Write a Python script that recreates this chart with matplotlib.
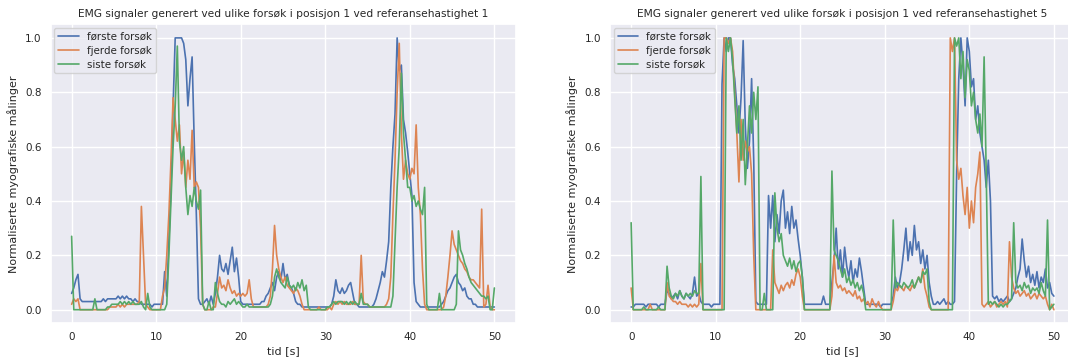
import numpy as np
import matplotlib
matplotlib.use("Agg")
import matplotlib.pyplot as plt
import seaborn as sns

# time axis: 0..50 s, one reading every 0.25 s
dt = 0.25
labels = ["første forsøk", "fjerde forsøk", "siste forsøk"]
titles = ["EMG signaler generert ved ulike forsøk i posisjon 1 ved referansehastighet 1",
          "EMG signaler generert ved ulike forsøk i posisjon 1 ved referansehastighet 5"]
xlabel = "tid [s]"
ylabel = "Normaliserte myografiske målinger"

# ---- values in percent, 4 readings per second ----
v1_forste = [
    6, 8, 11, 13,   4, 3, 3, 3,   3, 3, 3, 3,   3, 3, 3, 4,   3, 4, 4, 4,
    4, 4, 5, 4,   5, 4, 5, 4,   4, 3, 4, 3,   3, 2, 2, 2,   2, 2, 1, 2,
    2, 2, 2, 2,   14, 5, 25, 45,   75, 100, 100, 100,   100, 98, 92, 75,   85, 93, 62, 35,
    4, 2, 2, 3,   4, 2, 5, 2,   6, 12, 20, 15,   14, 17, 13, 18,   23, 14, 19, 12,
    3, 2, 2, 2,   2, 2, 2, 2,   2, 2, 3, 3,   5, 6, 8, 10,   7, 12, 14, 11,
    17, 11, 13, 9,   8, 6, 3, 2,   2, 1, 1, 1,   1, 1, 1, 1,   1, 1, 1, 1,
    1, 1, 1, 2,   5, 11, 7, 6,   8, 6, 7, 9,   10, 6, 2, 2,   1, 1, 1, 1,
    1, 1, 1, 2,   4, 7, 10, 14,   12, 18, 25, 45,   60, 72, 100, 88,   90, 70, 65, 58,
    50, 42, 10, 3,   2, 1, 1, 1,   1, 1, 1, 1,   1, 1, 1, 2,   3, 5, 7, 8,
    10, 12, 13, 10,   9, 7, 8, 5,   4, 4, 2, 2,   1, 1, 1, 1,   1, 1, 1, 1,
    1]
v1_fjerde = [
    2, 4, 3, 4,   0, 0, 0, 0,   0, 0, 0, 0,   0, 0, 0, 0,   0, 0, 1, 1,
    1, 1, 2, 1,   2, 1, 2, 2,   2, 2, 2, 2,   3, 38, 20, 2,   1, 0, 0, 0,
    0, 0, 0, 5,   8, 20, 35, 55,   78, 70, 62, 68,   50, 58, 45, 55,   48, 66, 45, 47,
    45, 30, 2, 0,   0, 0, 0, 1,   1, 6, 12, 8,   9, 7, 11, 8,   6, 7, 5, 6,
    5, 6, 5, 6,   11, 4, 1, 1,   1, 1, 1, 1,   1, 2, 5, 15,   31, 20, 15, 12,
    10, 12, 9, 8,   7, 6, 8, 7,   5, 2, 0, 0,   0, 0, 0, 0,   0, 1, 0, 0,
    0, 0, 1, 0,   2, 3, 2, 3,   2, 3, 2, 2,   2, 3, 2, 2,   2, 20, 3, 2,
    2, 1, 1, 1,   1, 1, 1, 1,   1, 2, 4, 12,   35, 55, 80, 98,   65, 48, 55, 50,
    48, 52, 50, 68,   45, 35, 15, 2,   0, 0, 0, 0,   0, 0, 0, 0,   1, 5, 12, 20,
    29, 24, 22, 20,   18, 17, 15, 14,   12, 11, 11, 10,   9, 8, 37, 1,   2, 9, 1, 0,
    0]
v1_siste = [
    27, 0, 0, 0,   0, 0, 0, 0,   0, 0, 0, 4,   0, 0, 0, 0,   0, 1, 1, 2,
    2, 2, 2, 3,   2, 3, 2, 3,   2, 3, 2, 2,   2, 3, 1, 0,   6, 1, 0, 0,
    0, 0, 0, 0,   0, 2, 20, 40,   60, 75, 97, 62,   55, 60, 45, 35,   42, 38, 45, 40,
    37, 44, 2, 0,   0, 3, 0, 0,   10, 6, 3, 2,   2, 1, 3, 2,   3, 4, 2, 3,
    2, 1, 1, 2,   1, 1, 1, 1,   1, 1, 1, 1,   1, 1, 2, 5,   12, 15, 12, 10,
    9, 8, 12, 9,   8, 9, 7, 10,   8, 11, 7, 9,   1, 0, 0, 0,   0, 0, 0, 0,
    0, 1, 1, 2,   3, 2, 3, 3,   3, 2, 3, 2,   3, 2, 3, 2,   2, 6, 2, 2,
    2, 1, 1, 1,   1, 1, 1, 1,   1, 1, 1, 1,   5, 25, 45, 60,   87, 65, 55, 45,
    45, 40, 42, 38,   40, 37, 35, 45,   2, 0, 0, 0,   0, 0, 6, 0,   0, 0, 0, 0,
    0, 0, 2, 29,   22, 20, 17, 15,   12, 10, 9, 8,   7, 6, 5, 5,   4, 5, 0, 0,
    8]

v5_forste = [
    1, 1, 2, 2,   2, 2, 2, 1,   2, 2, 2, 2,   2, 1, 2, 2,   2, 7, 6, 4,
    5, 6, 4, 7,   5, 4, 6, 5,   4, 6, 12, 5,   6, 3, 2, 2,   2, 2, 1, 2,
    2, 2, 2, 83,   100, 95, 100, 100,   90, 85, 75, 65,   78, 99, 68, 52,   62, 85, 55, 3,
    2, 2, 2, 2,   2, 42, 30, 42,   25, 35, 28, 40,   44, 30, 36, 28,   38, 30, 33, 26,
    20, 12, 2, 2,   2, 2, 2, 2,   2, 2, 2, 5,   2, 2, 2, 10,   18, 30, 15, 22,
    12, 23, 16, 12,   18, 10, 15, 12,   19, 14, 8, 2,   2, 2, 2, 2,   2, 2, 1, 2,
    2, 2, 2, 2,   5, 12, 8, 10,   15, 22, 30, 18,   25, 20, 31, 22,   25, 17, 22, 15,
    20, 10, 5, 2,   2, 3, 2, 3,   4, 2, 3, 2,   2, 3, 50, 85,   100, 90, 75, 100,
    95, 82, 85, 70,   75, 65, 60, 55,   45, 55, 40, 5,   4, 5, 3, 4,   3, 4, 5, 3,
    4, 6, 8, 12,   15, 26, 18, 12,   16, 10, 13, 9,   14, 8, 12, 10,   15, 8, 10, 6,
    5]
v5_fjerde = [
    8, 0, 0, 0,   0, 0, 0, 0,   0, 2, 0, 0,   0, 0, 0, 0,   0, 10, 5, 4,
    3, 3, 2, 3,   2, 2, 2, 1,   2, 1, 2, 1,   2, 17, 0, 0,   0, 0, 0, 0,
    0, 0, 0, 0,   100, 100, 98, 100,   95, 80, 65, 47,   70, 55, 62, 58,   60, 50, 20, 0,
    0, 0, 0, 0,   0, 0, 0, 22,   10, 8, 6, 9,   7, 9, 10, 8,   11, 9, 13, 15,
    12, 5, 0, 0,   0, 0, 0, 0,   0, 0, 0, 0,   0, 0, 0, 5,   20, 10, 8, 9,
    7, 8, 6, 7,   6, 5, 7, 4,   5, 3, 4, 2,   3, 1, 4, 2,   1, 3, 1, 0,
    0, 0, 0, 0,   3, 8, 7, 9,   8, 7, 9, 8,   7, 9, 8, 10,   12, 10, 15, 8,
    5, 1, 0, 0,   0, 0, 0, 0,   0, 0, 0, 100,   95, 100, 55, 48,   52, 42, 35, 45,
    30, 40, 32, 45,   50, 58, 2, 1,   2, 3, 1, 2,   3, 1, 2, 3,   2, 3, 1, 25,
    12, 8, 6, 7,   5, 6, 7, 5,   6, 4, 5, 6,   4, 6, 5, 4,   5, 2, 0, 2,
    0]
v5_siste = [
    32, 0, 0, 0,   0, 0, 1, 0,   0, 0, 0, 0,   0, 1, 0, 0,   0, 16, 8, 5,
    4, 6, 5, 7,   5, 4, 6, 5,   6, 5, 7, 6,   6, 49, 0, 0,   0, 0, 0, 0,
    0, 0, 0, 0,   0, 100, 95, 100,   92, 78, 65, 75,   55, 70, 46, 60,   75, 65, 80, 70,
    82, 0, 0, 6,   0, 0, 0, 0,   43, 30, 25, 28,   20, 18, 16, 19,   15, 18, 14, 17,
    18, 12, 0, 0,   0, 0, 0, 0,   0, 0, 0, 0,   0, 0, 0, 51,   22, 20, 18, 15,
    12, 15, 10, 12,   9, 11, 8, 10,   7, 9, 6, 0,   0, 0, 0, 0,   0, 0, 0, 0,
    0, 0, 0, 0,   33, 8, 10, 9,   8, 10, 9, 8,   9, 11, 8, 10,   12, 10, 14, 13,
    15, 3, 0, 0,   0, 0, 0, 0,   0, 0, 0, 0,   0, 100, 97, 100,   85, 95, 78, 92,
    88, 75, 80, 70,   65, 72, 60, 93,   50, 2, 3, 2,   3, 2, 1, 2,   1, 2, 2, 3,
    4, 32, 10, 8,   9, 7, 10, 8,   9, 6, 8, 7,   8, 6, 10, 7,   5, 33, 0, 1,
    2]

panels = [
    [v1_forste, v1_fjerde, v1_siste],
    [v5_forste, v5_fjerde, v5_siste],
]

sns.set_theme(style="darkgrid")
plt.rcParams["font.family"] = ["DejaVu Sans"]
colors = sns.color_palette("deep")[:3]

W, H = 1068, 358
fig = plt.figure(figsize=(W / 100, H / 100), dpi=100)
ax_boxes = [
    [50.5 / W, (H - 323.3) / H, 465 / W, 299 / H],
    [610.0 / W, (H - 323.3) / H, 465 / W, 299 / H],
]

for box, series, title in zip(ax_boxes, panels, titles):
    ax = fig.add_axes(box)
    for vals, lab, col in zip(series, labels, colors):
        y = np.array(vals, dtype=float) / 100.0
        t = np.arange(len(y)) * dt
        ax.plot(t, y, color=col, lw=1.2, label=lab)
    ax.set_xlim(-2.5, 52.5)
    ax.set_ylim(-0.05, 1.05)
    ax.set_xticks([0, 10, 20, 30, 40, 50])
    ax.set_yticks([0.0, 0.2, 0.4, 0.6, 0.8, 1.0])
    ax.tick_params(labelsize=7.5, length=0, pad=6.5, colors="#262626")
    ax.set_title(title, fontsize=7.7, pad=5, color="#262626")
    ax.set_xlabel(xlabel, fontsize=8.0, labelpad=3, color="#262626")
    ax.set_ylabel(ylabel, fontsize=8.0, labelpad=4.5, color="#262626")
    ax.legend(loc="upper left", fontsize=7.4, handlelength=2.0,
              borderaxespad=0.35, labelspacing=0.35)

fig.savefig("out.png", dpi=100)
